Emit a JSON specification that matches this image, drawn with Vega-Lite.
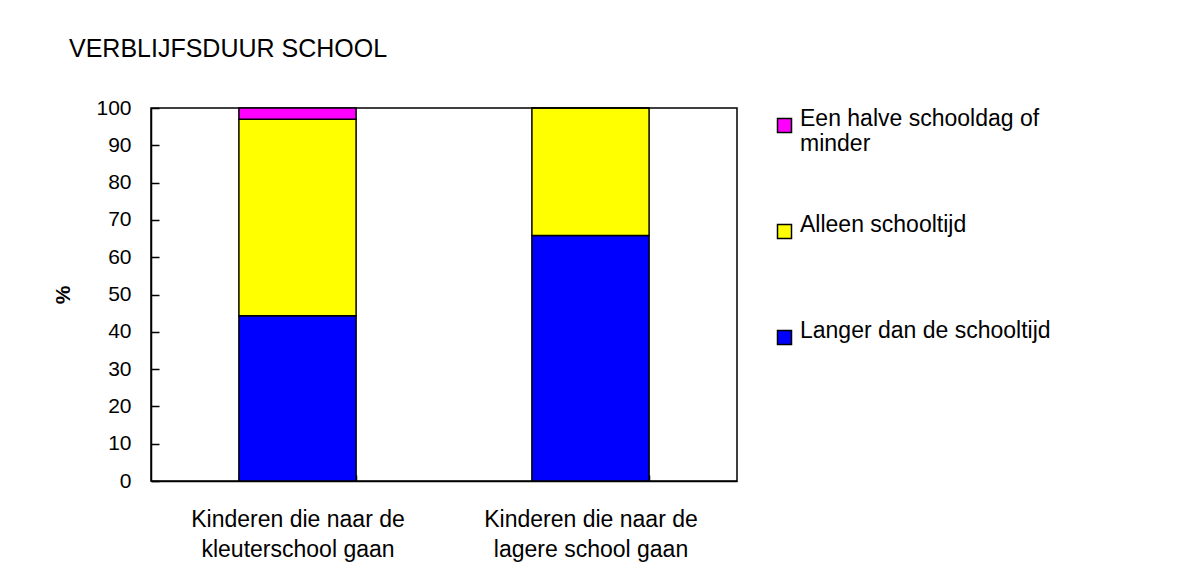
{
  "$schema": "https://vega.github.io/schema/vega-lite/v6.json",
  "width": 586,
  "height": 373,
  "autosize": "none",
  "padding": {"left": 151, "top": 108, "right": 459, "bottom": 89},
  "background": "white",
  "title": {
    "text": "VERBLIJFSDUUR SCHOOL",
    "anchor": "start",
    "frame": "group",
    "dx": -82,
    "offset": 15,
    "baseline": "alphabetic",
    "font": "Liberation Sans",
    "fontSize": 25,
    "fontWeight": "normal",
    "color": "black"
  },
  "config": {
    "view": {"stroke": "black", "strokeWidth": 1.5},
    "font": "Liberation Sans"
  },
  "data": {
    "values": [
      {"groep": "Kinderen die naar de kleuterschool gaan", "cat": "Langer dan de schooltijd", "pct": 44.3},
      {"groep": "Kinderen die naar de kleuterschool gaan", "cat": "Alleen schooltijd", "pct": 52.7},
      {"groep": "Kinderen die naar de kleuterschool gaan", "cat": "Een halve schooldag of minder", "pct": 3.0},
      {"groep": "Kinderen die naar de lagere school gaan", "cat": "Langer dan de schooltijd", "pct": 65.8},
      {"groep": "Kinderen die naar de lagere school gaan", "cat": "Alleen schooltijd", "pct": 34.2},
      {"groep": "Kinderen die naar de lagere school gaan", "cat": "Een halve schooldag of minder", "pct": 0}
    ]
  },
  "transform": [
    {"window": [{"op": "row_number", "as": "volgorde"}]}
  ],
  "mark": {"type": "bar", "stroke": "black", "strokeWidth": 1.5},
  "encoding": {
    "x": {
      "field": "groep",
      "type": "nominal",
      "sort": null,
      "scale": {"paddingInner": 0.6, "paddingOuter": 0.3},
      "axis": {
        "title": null,
        "labelAngle": 0,
        "labelFont": "Liberation Sans",
        "labelFontSize": 23,
        "labelColor": "black",
        "labelPadding": 33,
        "labelLineHeight": 30,
        "labelBaseline": "top",
        "labelExpr": "datum.label == 'Kinderen die naar de kleuterschool gaan' ? ['Kinderen die naar de', 'kleuterschool gaan'] : datum.label == 'Kinderen die naar de lagere school gaan' ? ['Kinderen die naar de', 'lagere school gaan'] : ''",
        "tickBand": "extent",
        "tickSize": -6,
        "tickColor": "black",
        "tickWidth": 1.5,
        "domainColor": "black",
        "domainWidth": 1.5,
        "labelLimit": 400
      }
    },
    "y": {
      "field": "pct",
      "type": "quantitative",
      "stack": "zero",
      "scale": {"domain": [0, 100], "nice": false},
      "axis": {
        "title": "%",
        "titleFont": "Liberation Sans",
        "titleFontSize": 21,
        "titleFontWeight": "bold",
        "titleColor": "black",
        "titlePadding": 22,
        "values": [0, 10, 20, 30, 40, 50, 60, 70, 80, 90, 100],
        "grid": false,
        "labelFont": "Liberation Sans",
        "labelFontSize": 21,
        "labelColor": "black",
        "labelPadding": 28,
        "tickSize": -8,
        "tickColor": "black",
        "tickWidth": 1.5,
        "domainColor": "black",
        "domainWidth": 1.5
      }
    },
    "order": {"field": "volgorde", "type": "quantitative"},
    "color": {
      "field": "cat",
      "type": "nominal",
      "sort": ["Langer dan de schooltijd", "Alleen schooltijd", "Een halve schooldag of minder"],
      "scale": {
        "domain": ["Langer dan de schooltijd", "Alleen schooltijd", "Een halve schooldag of minder"],
        "range": ["#0000FF", "#FFFF00", "#FF00FF"]
      },
      "legend": {
        "title": null,
        "orient": "right",
        "offset": 30,
        "padding": 6,
        "values": ["Een halve schooldag of minder", "Alleen schooltijd", "Langer dan de schooltijd"],
        "symbolType": "square",
        "symbolSize": 196,
        "symbolStrokeColor": "black",
        "symbolStrokeWidth": 1.5,
        "symbolOpacity": 1,
        "labelFont": "Liberation Sans",
        "labelFontSize": 23,
        "labelColor": "black",
        "labelOffset": 4,
        "labelLimit": 400,
        "labelBaseline": "alphabetic",
        "labelLineHeight": 33,
        "rowPadding": 57,
        "labelExpr": "datum.label == 'Een halve schooldag of minder' ? ['Een halve schooldag of', 'minder'] : [datum.label, '']"
      }
    }
  }
}
